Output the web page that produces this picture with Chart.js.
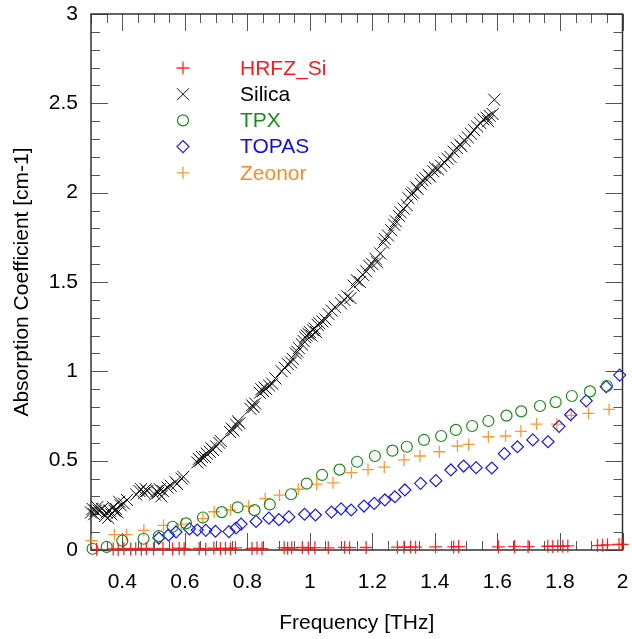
<!DOCTYPE html>
<html>
<head>
<meta charset="utf-8">
<script src="https://cdn.jsdelivr.net/npm/chart.js@4.4.1/dist/chart.umd.min.js"></script>
<style>
  html, body { margin: 0; padding: 0; background: #fff; }
</style>
</head>
<body>
<canvas id="absChart" width="632" height="639"></canvas>
<script>
// ---- data ----
const xTicks = [0.4, 0.6, 0.8, 1, 1.2, 1.4, 1.6, 1.8, 2];
const yTicks = [0, 0.5, 1, 1.5, 2, 2.5, 3];

const hrfzX = [0.318, 0.371, 0.387, 0.405, 0.427, 0.443, 0.461, 0.477, 0.5, 0.53, 0.561, 0.582, 0.598, 0.646, 0.667, 0.693, 0.714, 0.73, 0.746, 0.762, 0.815, 0.831, 0.847, 0.918, 0.929, 0.942, 0.976, 0.995, 1.016, 1.059, 1.111, 1.127, 1.18, 1.28, 1.301, 1.322, 1.338, 1.402, 1.46, 1.476, 1.603, 1.655, 1.698, 1.761, 1.777, 1.793, 1.809, 1.825, 1.92, 1.936, 1.952, 1.989, 1.999];
const hrfzY = [0.004, 0.006, 0.003, 0.008, 0.005, 0.007, 0.004, 0.009, 0.006, 0.008, 0.005, 0.01, 0.007, 0.009, 0.006, 0.011, 0.008, 0.01, 0.007, 0.012, 0.009, 0.011, 0.008, 0.013, 0.01, 0.012, 0.014, 0.011, 0.013, 0.012, 0.015, 0.013, 0.014, 0.016, 0.015, 0.017, 0.016, 0.018, 0.017, 0.019, 0.018, 0.02, 0.019, 0.021, 0.02, 0.022, 0.021, 0.023, 0.025, 0.027, 0.029, 0.031, 0.032];

const silicaX = [0.3, 0.305, 0.31, 0.315, 0.32, 0.325, 0.335, 0.345, 0.35, 0.355, 0.36, 0.365, 0.37, 0.375, 0.38, 0.385, 0.39, 0.395, 0.405, 0.415, 0.445, 0.455, 0.46, 0.47, 0.475, 0.48, 0.505, 0.51, 0.515, 0.52, 0.525, 0.53, 0.545, 0.555, 0.57, 0.575, 0.59, 0.595, 0.64, 0.645, 0.65, 0.655, 0.665, 0.67, 0.68, 0.685, 0.69, 0.7, 0.71, 0.715, 0.745, 0.75, 0.755, 0.765, 0.77, 0.775, 0.81, 0.815, 0.82, 0.825, 0.84, 0.845, 0.85, 0.855, 0.86, 0.87, 0.88, 0.89, 0.91, 0.92, 0.93, 0.94, 0.945, 0.955, 0.96, 0.965, 0.975, 0.98, 0.985, 0.99, 0.995, 1.0, 1.005, 1.01, 1.015, 1.02, 1.025, 1.03, 1.04, 1.05, 1.06, 1.07, 1.08, 1.1, 1.11, 1.12, 1.13, 1.14, 1.15, 1.16, 1.17, 1.18, 1.19, 1.2, 1.21, 1.215, 1.225, 1.235, 1.24, 1.25, 1.26, 1.27, 1.275, 1.285, 1.29, 1.3, 1.31, 1.315, 1.325, 1.33, 1.34, 1.345, 1.355, 1.36, 1.37, 1.38, 1.385, 1.395, 1.4, 1.41, 1.42, 1.43, 1.44, 1.45, 1.46, 1.47, 1.48, 1.485, 1.495, 1.505, 1.515, 1.525, 1.535, 1.545, 1.555, 1.565, 1.57, 1.575, 1.585, 1.59];
const silicaY = [0.21, 0.23, 0.2, 0.22, 0.24, 0.22, 0.23, 0.19, 0.21, 0.18, 0.22, 0.2, 0.24, 0.22, 0.23, 0.21, 0.27, 0.25, 0.26, 0.28, 0.31, 0.33, 0.34, 0.32, 0.34, 0.33, 0.31, 0.33, 0.32, 0.34, 0.3, 0.33, 0.35, 0.36, 0.38, 0.37, 0.4, 0.41, 0.49, 0.51, 0.5, 0.52, 0.52, 0.54, 0.55, 0.57, 0.56, 0.58, 0.6, 0.61, 0.66, 0.68, 0.67, 0.7, 0.72, 0.71, 0.79, 0.81, 0.8, 0.82, 0.88, 0.9, 0.89, 0.91, 0.9, 0.92, 0.93, 0.96, 1.0, 1.02, 1.04, 1.05, 1.07, 1.1, 1.11, 1.13, 1.15, 1.17, 1.19, 1.2, 1.21, 1.22, 1.2, 1.23, 1.24, 1.22, 1.26, 1.27, 1.28, 1.29, 1.32, 1.34, 1.36, 1.38, 1.4, 1.42, 1.41, 1.48, 1.51, 1.5, 1.54, 1.56, 1.59, 1.6, 1.63, 1.61, 1.66, 1.72, 1.74, 1.76, 1.79, 1.82, 1.84, 1.87, 1.89, 1.91, 1.93, 1.97, 1.99, 2.0, 2.03, 2.02, 2.05, 2.07, 2.08, 2.1, 2.09, 2.12, 2.14, 2.13, 2.15, 2.17, 2.19, 2.2, 2.23, 2.25, 2.27, 2.26, 2.29, 2.31, 2.33, 2.35, 2.37, 2.39, 2.41, 2.42, 2.4, 2.43, 2.44, 2.52];

const tpxX = [0.305, 0.35, 0.4, 0.468, 0.517, 0.561, 0.604, 0.658, 0.718, 0.769, 0.823, 0.872, 0.94, 0.99, 1.039, 1.095, 1.151, 1.208, 1.264, 1.31, 1.365, 1.42, 1.467, 1.519, 1.571, 1.629, 1.676, 1.736, 1.786, 1.838, 1.896, 1.95];
const tpxY = [0.007, 0.017, 0.052, 0.063, 0.078, 0.13, 0.149, 0.182, 0.212, 0.239, 0.223, 0.255, 0.312, 0.372, 0.42, 0.45, 0.494, 0.526, 0.556, 0.578, 0.616, 0.638, 0.672, 0.694, 0.722, 0.752, 0.776, 0.806, 0.828, 0.862, 0.888, 0.918];

const topasX = [0.517, 0.548, 0.572, 0.615, 0.64, 0.667, 0.698, 0.741, 0.764, 0.78, 0.828, 0.869, 0.901, 0.933, 0.983, 1.018, 1.069, 1.1, 1.132, 1.173, 1.206, 1.24, 1.272, 1.304, 1.354, 1.403, 1.451, 1.492, 1.532, 1.582, 1.622, 1.664, 1.713, 1.762, 1.797, 1.834, 1.884, 1.948, 1.991];
const topasY = [0.067, 0.084, 0.101, 0.118, 0.112, 0.11, 0.105, 0.103, 0.123, 0.145, 0.16, 0.178, 0.17, 0.185, 0.2, 0.196, 0.212, 0.23, 0.224, 0.246, 0.261, 0.28, 0.298, 0.336, 0.373, 0.388, 0.448, 0.47, 0.461, 0.459, 0.539, 0.578, 0.616, 0.606, 0.692, 0.757, 0.835, 0.914, 0.979];

const zeonorX = [0.302, 0.375, 0.414, 0.469, 0.532, 0.59, 0.658, 0.694, 0.746, 0.804, 0.857, 0.903, 0.963, 1.022, 1.074, 1.133, 1.186, 1.238, 1.301, 1.352, 1.414, 1.472, 1.508, 1.571, 1.626, 1.675, 1.725, 1.79, 1.836, 1.891, 1.957];
const zeonorY = [0.052, 0.086, 0.086, 0.11, 0.138, 0.145, 0.176, 0.214, 0.224, 0.245, 0.287, 0.307, 0.34, 0.369, 0.376, 0.433, 0.45, 0.464, 0.504, 0.526, 0.55, 0.582, 0.591, 0.634, 0.638, 0.664, 0.705, 0.705, 0.754, 0.765, 0.787];

const pts = (xs, ys) => xs.map((x, i) => ({ x: x, y: ys[i] }));
const FONT = 'Liberation Sans, Arial, sans-serif';

// frame with inward ticks on all four sides
const frameTicks = {
    id: 'frameTicks',
    beforeDatasetsDraw(chart) {
        const { ctx, chartArea: a, scales: { x, y } } = chart;
        ctx.save();
        ctx.strokeStyle = '#555';
        ctx.lineWidth = 1;
        ctx.beginPath();
        for (let i = 6; i <= 40; i++) {
            const px = Math.round(x.getPixelForValue(i * 0.05)) + 0.5;
            const len = i % 4 === 0 ? 17 : 9;
            ctx.moveTo(px, a.bottom); ctx.lineTo(px, a.bottom - len);
            ctx.moveTo(px, a.top); ctx.lineTo(px, a.top + len);
        }
        for (let i = 0; i <= 30; i++) {
            const py = Math.round(y.getPixelForValue(i * 0.1)) + 0.5;
            const len = i % 5 === 0 ? 17 : 9;
            ctx.moveTo(a.left, py); ctx.lineTo(a.left + len, py);
            ctx.moveTo(a.right, py); ctx.lineTo(a.right - len, py);
        }
        ctx.stroke();
        ctx.strokeStyle = '#333';
        ctx.lineWidth = 1.5;
        ctx.strokeRect(a.left, a.top, a.right - a.left, a.bottom - a.top);
        ctx.restore();
    }
};

// legend drawn inside the plot, upper left
const innerLegend = {
    id: 'innerLegend',
    afterDraw(chart) {
        const ctx = chart.ctx;
        ctx.save();
        ctx.font = '21px ' + FONT;
        ctx.textBaseline = 'middle';
        chart.data.datasets.forEach((ds, i) => {
            const yy = 68 + i * 26.2;
            ctx.strokeStyle = ds.borderColor;
            ctx.fillStyle = 'rgba(0,0,0,0)';
            ctx.lineWidth = ds.pointBorderWidth;
            Chart.helpers.drawPoint(ctx, {
                pointStyle: ds.pointStyle, radius: ds.pointRadius, rotation: 0, borderWidth: ds.pointBorderWidth
            }, 183, yy);
            ctx.fillStyle = ds.textColor;
            ctx.fillText(ds.label, 240, yy + 1);
        });
        ctx.restore();
    }
};

const ctx = document.getElementById('absChart');
new Chart(ctx, {
    type: 'scatter',
    data: {
        datasets: [
            { label: 'HRFZ_Si', data: pts(hrfzX, hrfzY), pointStyle: 'cross', pointRadius: 6.5, pointBorderWidth: 1.3,
              borderColor: 'rgba(255,20,20,0.9)', backgroundColor: 'rgba(0,0,0,0)', textColor: '#ff1a1a' },
            { label: 'Silica', data: pts(silicaX, silicaY), pointStyle: 'crossRot', pointRadius: 8.5, pointBorderWidth: 1,
              borderColor: '#111', backgroundColor: 'rgba(0,0,0,0)', textColor: '#000' },
            { label: 'TPX', data: pts(tpxX, tpxY), pointStyle: 'circle', pointRadius: 5.5, pointBorderWidth: 1.2,
              borderColor: '#1c8c1c', backgroundColor: 'rgba(0,0,0,0)', textColor: '#1c8c1c' },
            { label: 'TOPAS', data: pts(topasX, topasY), pointStyle: 'rectRot', pointRadius: 6, pointBorderWidth: 1.2,
              borderColor: '#1a1aee', backgroundColor: 'rgba(0,0,0,0)', textColor: '#1010e0' },
            { label: 'Zeonor', data: pts(zeonorX, zeonorY), pointStyle: 'cross', pointRadius: 6, pointBorderWidth: 1.3,
              borderColor: 'rgba(255,140,30,0.9)', backgroundColor: 'rgba(0,0,0,0)', textColor: '#ff8a22' }
        ]
    },
    options: {
        responsive: false,
        animation: false,
        clip: false,
        layout: { padding: { top: 14, right: 5, left: 0, bottom: 0 } },
        plugins: {
            legend: { display: false },
            tooltip: { enabled: false }
        },
        scales: {
            x: {
                type: 'linear',
                min: 0.3,
                max: 2,
                afterBuildTicks: s => { s.ticks = xTicks.map(v => ({ value: v })); },
                afterFit: s => { s.height = 89; s.paddingLeft = 0; s.paddingRight = 0; },
                grid: { display: false, drawTicks: false },
                border: { display: false },
                ticks: {
                    color: '#000',
                    padding: 20,
                    font: { family: FONT, size: 21 },
                    callback: v => String(Math.round(v * 10) / 10)
                },
                title: {
                    display: true,
                    text: 'Frequency [THz]',
                    color: '#000',
                    font: { family: FONT, size: 21 },
                    padding: { top: 0, bottom: 3 }
                }
            },
            y: {
                type: 'linear',
                min: 0,
                max: 3,
                afterBuildTicks: s => { s.ticks = yTicks.map(v => ({ value: v })); },
                afterFit: s => { s.width = 91; s.paddingTop = 0; s.paddingBottom = 0; },
                grid: { display: false, drawTicks: false },
                border: { display: false },
                ticks: {
                    color: '#000',
                    padding: 13,
                    font: { family: FONT, size: 21 },
                    callback: v => String(Math.round(v * 10) / 10)
                },
                title: {
                    display: true,
                    text: 'Absorption Coefficient [cm-1]',
                    color: '#000',
                    font: { family: FONT, size: 21 },
                    padding: { top: 10, bottom: 0 }
                }
            }
        }
    },
    plugins: [frameTicks, innerLegend]
});
</script>
</body>
</html>
